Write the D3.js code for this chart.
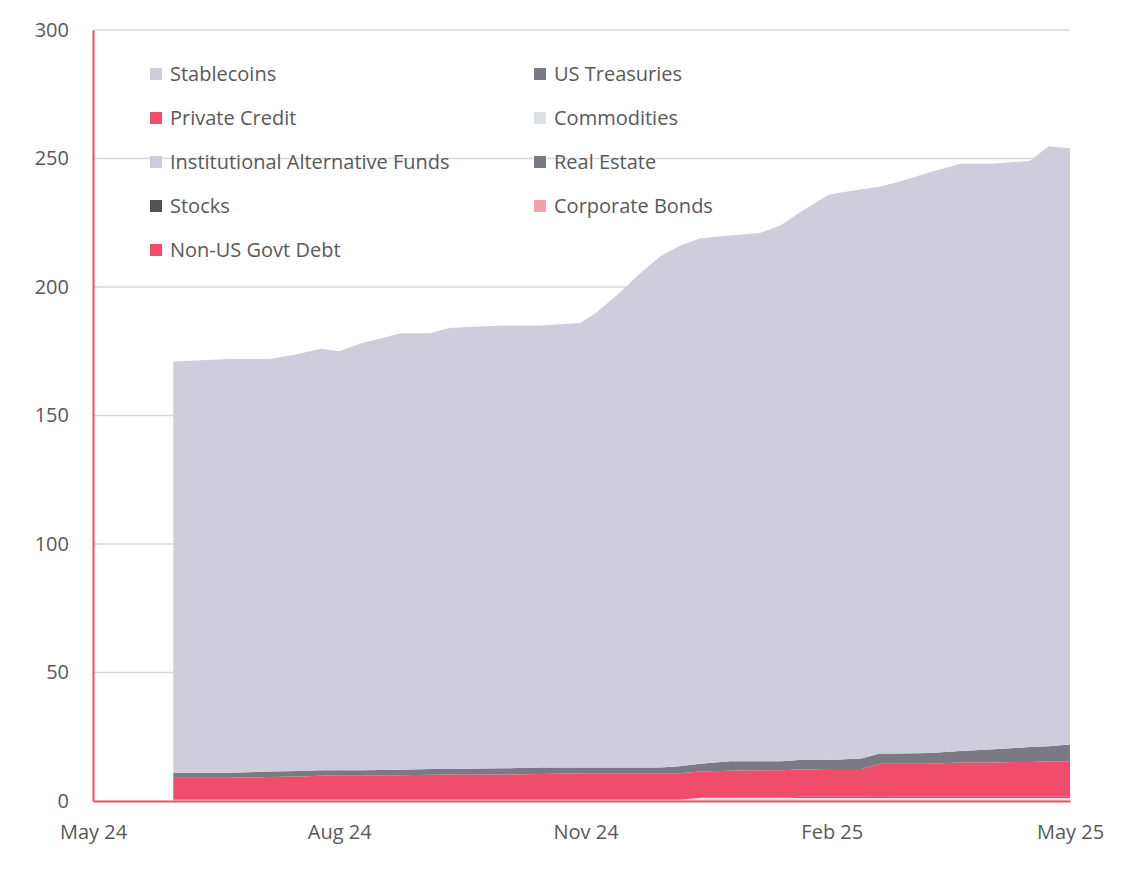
<!DOCTYPE html><html><head><meta charset="utf-8">
<script src="https://cdn.jsdelivr.net/npm/d3@7"></script>
<style>body{margin:0;background:#fff}text{font-family:"Open Sans",sans-serif}</style></head><body>
<svg id="c" width="1128" height="896"></svg>
<script>
const dates=["2024-05-31","2024-06-21","2024-07-06","2024-07-17","2024-07-25","2024-08-01","2024-08-09","2024-08-24","2024-09-04","2024-09-11","2024-09-30","2024-10-15","2024-10-30","2024-11-05","2024-11-14","2024-11-21","2024-11-29","2024-12-06","2024-12-14","2024-12-25","2025-01-05","2025-01-13","2025-01-20","2025-01-31","2025-02-12","2025-02-19","2025-02-26","2025-03-10","2025-03-21","2025-04-01","2025-04-16","2025-04-23","2025-05-01"];
const commodities=[0.5,0.5,0.5,0.5,0.5,0.5,0.5,0.5,0.5,0.5,0.5,0.5,0.5,0.5,0.5,0.5,0.5,0.5,1.3,1.3,1.3,1.3,1.3,1.3,1.3,1.3,1.3,1.3,1.3,1.3,1.3,1.3,1.3];
const stocks=[0,0,0,0,0,0,0,0,0,0,0,0,0,0,0,0,0,0,0,0,0,0,0.4,0.4,0.4,0.3,0.4,0.4,0.4,0.4,0.4,0.4,0.4];
const privateCredit=[8.5,8.5,8.8,9,9.3,9.5,9.5,9.5,9.7,9.8,9.8,10,10.3,10.3,10.3,10.3,10.3,10.3,10.2,10.5,10.7,10.7,10.6,10.8,10.8,12.9,12.8,12.8,13.3,13.3,13.5,13.8,13.8];
const usTreasuries=[2,2,2.2,2.2,2.2,2,2,2.2,2.3,2.2,2.4,2.5,2.2,2.2,2.2,2.2,2.2,2.7,3,3.7,3.5,3.5,3.7,3.5,4,4,4,4.2,4.5,5,5.8,5.8,6.5];
const stablecoins=[160,161,160.5,162.3,164,163,166,169.8,169.5,171.5,172.3,172,173,177,185,192,199,202.5,204.5,204.5,205.5,208.5,213,220,221.5,220.5,222.5,226,228.5,228,228,233.5,232];
const legendItems=[["Stablecoins","#cfcddb"],["US Treasuries","#7b7984"],["Private Credit","#ef4d6a"],["Commodities","#dde0e4"],["Institutional Alternative Funds","#cfcddb"],["Real Estate","#7b7984"],["Stocks","#545159"],["Corporate Bonds","#f4a0b0"],["Non-US Govt Debt","#ef4d6a"]];
const yTicks=[0,50,100,150,200,250,300];
const xTicks=["2024-05-01","2024-08-01","2024-11-01","2025-02-01","2025-05-01"];
const xLabels=["May 24","Aug 24","Nov 24","Feb 25","May 25"];

const svg=d3.select("#c"),p=d3.timeParse("%Y-%m-%d");
const x=d3.scaleTime().domain([p("2024-05-01"),p("2025-05-01")]).range([93,1070]);
const y=d3.scaleLinear().domain([0,300]).range([801,30]);
const keys=["commodities","stocks","privateCredit","usTreasuries","stablecoins"];
const cols={commodities:"#dde0e4",stocks:"#545159",privateCredit:"#ef4d6a",usTreasuries:"#7b7984",stablecoins:"#cfcddb"};
const src={commodities,stocks,privateCredit,usTreasuries,stablecoins};
const rows=dates.map((d,i)=>{const r={date:p(d)};keys.forEach(k=>r[k]=src[k][i]);return r;});
svg.append("g").selectAll("line").data(yTicks.slice(1)).join("line")
 .attr("x1",93).attr("x2",1070).attr("y1",d=>y(d)).attr("y2",d=>y(d)).attr("stroke","#d9d9d9").attr("stroke-width",1.3);
const lg=svg.append("g");
legendItems.forEach((it,i)=>{const cx=i%2?534:150,cy=74+Math.floor(i/2)*44;
 lg.append("rect").attr("x",cx).attr("y",cy-6).attr("width",12).attr("height",12).attr("fill",it[1]);
 lg.append("text").attr("x",cx+20).attr("y",cy+7).attr("font-size",20).attr("fill","#595959").text(it[0]);});
const st=d3.stack().keys(keys)(rows);
const area=d3.area().x(d=>x(d.data.date)).y0(d=>y(d[0])).y1(d=>y(d[1])).curve(d3.curveLinear);
svg.append("g").selectAll("path").data(st).join("path").attr("fill",d=>cols[d.key]).attr("d",area);
const ya=svg.append("g").attr("transform","translate(93,0)").call(d3.axisLeft(y).tickValues(yTicks).tickSize(0).tickPadding(24));
ya.select(".domain").attr("stroke","#ef4d6a").attr("stroke-width",2);
ya.selectAll("text").attr("font-size",20).attr("fill","#595959").attr("font-family","Open Sans");
const xa=svg.append("g").attr("transform","translate(0,801)").call(d3.axisBottom(x).tickValues(xTicks.map(p)).tickFormat((d,i)=>xLabels[i]).tickSize(0).tickPadding(24));
xa.select(".domain").attr("stroke","#ef4d6a").attr("stroke-width",2);
xa.selectAll("text").attr("font-size",20).attr("fill","#595959").attr("font-family","Open Sans");
</script></body></html>
